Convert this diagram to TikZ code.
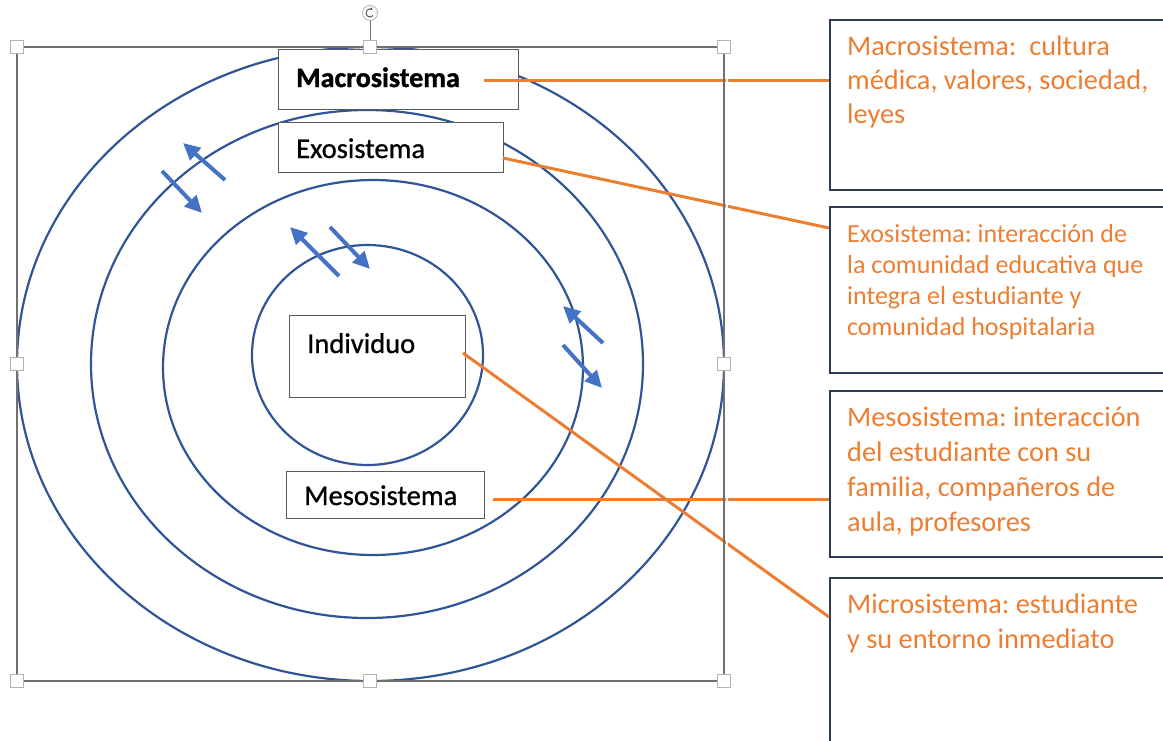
\documentclass[tikz,border=0pt]{standalone}
\usepackage{fontspec}
\setmainfont{Carlito}
\usetikzlibrary{arrows.meta}
\frenchspacing

\definecolor{ringblue}{HTML}{2F5597}
\definecolor{flowblue}{HTML}{4472C4}
\definecolor{noteorange}{HTML}{ED7D31}
\definecolor{navyline}{HTML}{2E3B55}
\definecolor{framegray}{HTML}{707070}

\begin{document}
\begin{tikzpicture}[
  x=1pt, y=-1pt,
  ring/.style={draw=ringblue, line width=2.2pt},
  flow/.style={-{Triangle[length=17pt,width=16pt]}, line width=4pt, draw=flowblue},
  labelbox/.style={draw=gray!70!black, fill=white, line width=1.1pt, inner sep=0pt, anchor=north west},
  labeltext/.style={inner sep=0pt, anchor=base west, font=\fontsize{28.5}{32}\selectfont\addfontfeatures{FakeBold=0.8}},
  notebox/.style={draw=navyline, line width=1.5pt, inner sep=0pt, anchor=north west, minimum width=350},
  notetext/.style={inner sep=0pt, anchor=base west, align=left, text=noteorange},
  link/.style={draw=noteorange, line width=3pt},
  selframe/.style={draw=framegray, line width=1.4pt},
  handle/.style={draw=gray!60, fill=white, line width=0.8pt, minimum size=13pt, inner sep=0pt},
  rothandle/.style={circle, draw=gray!60, fill=white, line width=0.8pt, minimum size=15pt, inner sep=0pt}
]
\useasboundingbox (0,0) rectangle (1163,740);
\clip (0,0) rectangle (1163,740);

% --- Nested systems ---
\draw[ring] (370.5,364) ellipse [x radius=353.5, y radius=317];
\draw[ring] (367,364) ellipse [x radius=276, y radius=254];
\draw[ring] (373,367.5) ellipse [x radius=210, y radius=187.5];
\draw[ring] (367.5,355) ellipse [x radius=115.5, y radius=110];

% --- Exchange arrows across the rings ---
\coordinate (a1) at (225,180); \coordinate (b1) at (183,143);
\coordinate (a2) at (162,171); \coordinate (b2) at (202,213);
\coordinate (a3) at (339,276); \coordinate (b3) at (290,227);
\coordinate (a4) at (330,227); \coordinate (b4) at (370,269);
\coordinate (a5) at (603,343); \coordinate (b5) at (563,306);
\coordinate (a6) at (563,345); \coordinate (b6) at (602,388);
\foreach \i in {1,...,6}
  \draw[flow] (a\i) -- (b\i);

% --- Level labels ---
\node[labelbox, minimum width=240, minimum height=60] (macro) at (278,49) {};
\node[labeltext, font=\fontsize{28}{32}\selectfont\bfseries\addfontfeatures{FakeBold=1.2}] (macrolbl) at (296,87) {Macrosistema};
\node[labelbox, minimum width=225, minimum height=50] (exo) at (278,122) {};
\node[labeltext] (exolbl) at (296,158) {Exosistema};
\node[labelbox, minimum width=176, minimum height=82] (ind) at (289,315) {};
\node[labeltext] (indlbl) at (307,353) {Individuo};
\node[labelbox, minimum width=198, minimum height=47] (meso) at (286,471) {};
\node[labeltext] (mesolbl) at (304,505) {Mesosistema};

% --- Descriptions (right), placed by their last baseline ---
\node[notebox, minimum height=170] (rmacro) at (829,19) {};
\node[notetext, font=\fontsize{28.3}{34}\selectfont] (tmacro) at (847,123)
  {Macrosistema:\ \ cultura\\médica, valores, sociedad,\\leyes};
\node[notebox, minimum height=166] (rexo) at (829,206) {};
\node[notetext, font=\fontsize{26}{31}\selectfont] (texo) at (847,335)
  {Exosistema: interacción de\\la comunidad educativa que\\integra el estudiante y\\comunidad hospitalaria};
\node[notebox, minimum height=166] (rmeso) at (829,390) {};
\node[notetext, font=\fontsize{28.3}{34.7}\selectfont] (tmeso) at (847,531)
  {Mesosistema: interacción\\del estudiante con su\\familia, compañeros de\\aula, profesores};
\node[notebox, minimum height=190] (rmicro) at (829,577) {};
\node[notetext, font=\fontsize{28.3}{35}\selectfont] (tmicro) at (847,648)
  {Microsistema: estudiante\\y su entorno inmediato};

% --- Links label -> description ---
\coordinate (macroout) at (484,80);
\coordinate (exoout) at (503,158);
\coordinate (exoin) at (829,228);
\coordinate (indout) at (463,353);
\coordinate (microin) at (829,617);
\coordinate (mesoout) at (493,499);
\draw[link] (macroout) -- (rmacro.west |- macroout);
\draw[link] (exoout) -- (exoin);
\draw[link] (mesoout) -- (rmeso.west |- mesoout);
\draw[link] (indout) -- (microin);

% --- Selection frame with handles ---
\draw[white, line width=2.5pt] (727,47) -- (727,681);
\draw[selframe] (17,47) rectangle (724,681);
\foreach \hx/\hy [count=\i] in {17/47, 370/47, 724/47, 17/364, 724/364, 17/681, 370/681, 724/681}
  \node[handle] (h\i) at (\hx,\hy) {};
\node[rothandle] (rot) at (370,13) {};
\draw[selframe, line width=1pt] (rot) -- (h2);
\draw[gray!60!black, line width=0.9pt, -{Stealth[length=2.5pt,width=3pt]}]
  (rot.center) ++(40:4) arc[start angle=40, end angle=310, radius=4];

\end{tikzpicture}
\end{document}
